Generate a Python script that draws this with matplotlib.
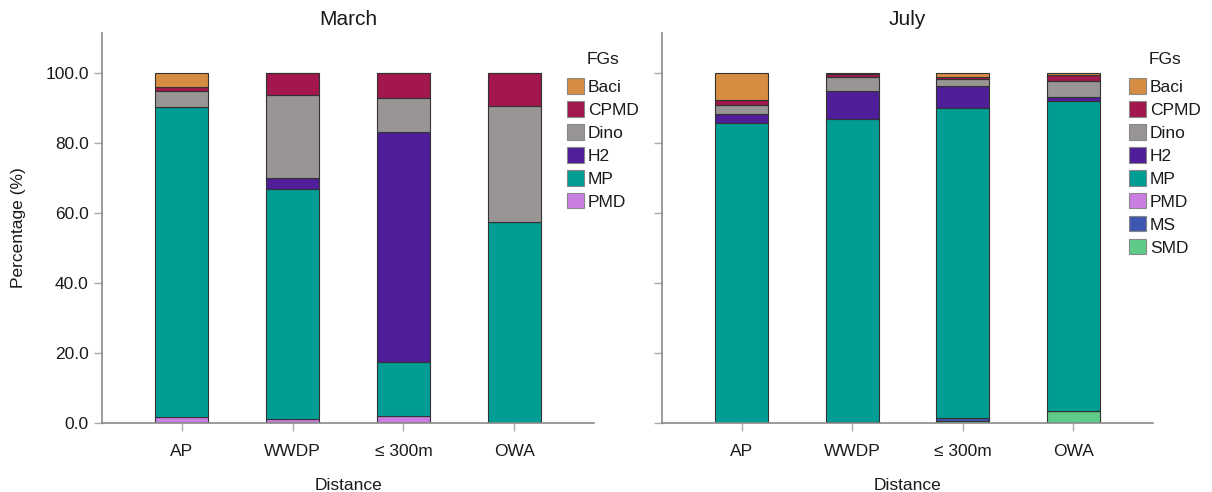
import numpy as np
import matplotlib
matplotlib.use("Agg")
import matplotlib.pyplot as plt

plt.rcParams['font.family'] = ['Liberation Sans', 'DejaVu Sans']

# categories and functional groups
sites = ['AP', 'WWDP', '≤ 300m', 'OWA']
groups = ['Baci', 'CPMD', 'Dino', 'H2', 'MP', 'PMD', 'MS', 'SMD']
colors = {'Baci': '#D68C41', 'CPMD': '#A2174E', 'Dino': '#9A9595',
          'H2': '#4F1E98', 'MP': '#009D95', 'PMD': '#CB7EE1',
          'MS': '#3E58AF', 'SMD': '#5ECB89'}

# March (percentages)
mar_pmd = [1.7, 1.0, 2.0, 0.0]
mar_mp = [88.6, 65.9, 15.4, 57.4]
mar_h2 = [0.0, 3.1, 65.8, 0.0]
mar_dino = [4.5, 23.8, 9.5, 33.1]
mar_cpmd = [1.3, 6.2, 7.3, 9.5]
mar_baci = [3.9, 0.0, 0.0, 0.0]

# July (percentages)
jul_smd = [0.0, 0.0, 0.5, 3.3]
jul_ms = [0.0, 0.3, 1.0, 0.2]
jul_pmd = [0.0, 0.0, 0.0, 0.0]
jul_mp = [85.6, 86.6, 88.4, 88.6]
jul_h2 = [2.6, 8.0, 6.4, 0.9]
jul_dino = [2.5, 4.0, 2.0, 4.7]
jul_cpmd = [1.5, 0.8, 0.5, 1.6]
jul_baci = [7.8, 0.3, 1.2, 0.7]

march = {'PMD': mar_pmd, 'MP': mar_mp, 'H2': mar_h2, 'Dino': mar_dino,
         'CPMD': mar_cpmd, 'Baci': mar_baci}
july = {'SMD': jul_smd, 'MS': jul_ms, 'PMD': jul_pmd, 'MP': jul_mp,
        'H2': jul_h2, 'Dino': jul_dino, 'CPMD': jul_cpmd, 'Baci': jul_baci}

fig = plt.figure(figsize=(12.12, 4.92), dpi=100)
ax1 = fig.add_axes([102/1212, 69/492, 492/1212, 390/492])
ax2 = fig.add_axes([662/1212, 69/492, 491/1212, 390/492])

x = np.arange(len(sites))
txt = '#1a1a1a'
spine = '#8a8a8a'


def draw(ax, data, title, legend_groups, leg_x):
    bottom = np.zeros(len(sites))
    handles = {}
    for g, vals in data.items():
        vals = np.array(vals)
        b = ax.bar(x, vals, 0.48, bottom=bottom, color=colors[g],
                   edgecolor='#333333', linewidth=0.8, label=g)
        handles[g] = b
        bottom += vals
    ax.set_xlim(-0.72, 3.72)
    ax.set_ylim(0, 111.4)
    ax.set_yticks([0, 20, 40, 60, 80, 100])
    ax.set_xticks(x)
    ax.set_xticklabels(sites)
    for s in ['top', 'right']:
        ax.spines[s].set_visible(False)
    for s in ['left', 'bottom']:
        ax.spines[s].set_color(spine)
        ax.spines[s].set_linewidth(1.2)
    ax.tick_params(colors='#aaaaaa', labelcolor=txt, labelsize=12.5, length=6, width=1)
    ax.tick_params(axis='x', pad=9)
    ax.set_title(title, fontsize=15, color=txt, pad=6)
    ax.set_xlabel('Distance', fontsize=12.5, color=txt, labelpad=14)
    hs = [handles[g] for g in legend_groups]
    leg = ax.legend(hs, legend_groups, title='FGs', loc='upper left',
                    bbox_to_anchor=(leg_x/1212, 1 - 52/492), bbox_transform=fig.transFigure,
                    frameon=False, fontsize=12.5, title_fontsize=12.5,
                    handlelength=1.0, handleheight=1.0, handletextpad=0.2,
                    labelspacing=0.36, borderpad=0, borderaxespad=0)
    leg._legend_box.sep = 8
    for t in leg.get_texts():
        t.set_color(txt)
    leg.get_title().set_color(txt)
    for p in leg.get_patches():
        p.set_edgecolor('#888888')


draw(ax1, march, 'March', ['Baci', 'CPMD', 'Dino', 'H2', 'MP', 'PMD'], 567)
ax1.yaxis.set_major_formatter(matplotlib.ticker.FormatStrFormatter('%.1f'))
ax1.set_ylabel('Percentage (%)', fontsize=12.5, color=txt, labelpad=14)

draw(ax2, july, 'July', groups, 1129)
ax2.set_yticklabels([])

fig.savefig('out.png', dpi=100)
